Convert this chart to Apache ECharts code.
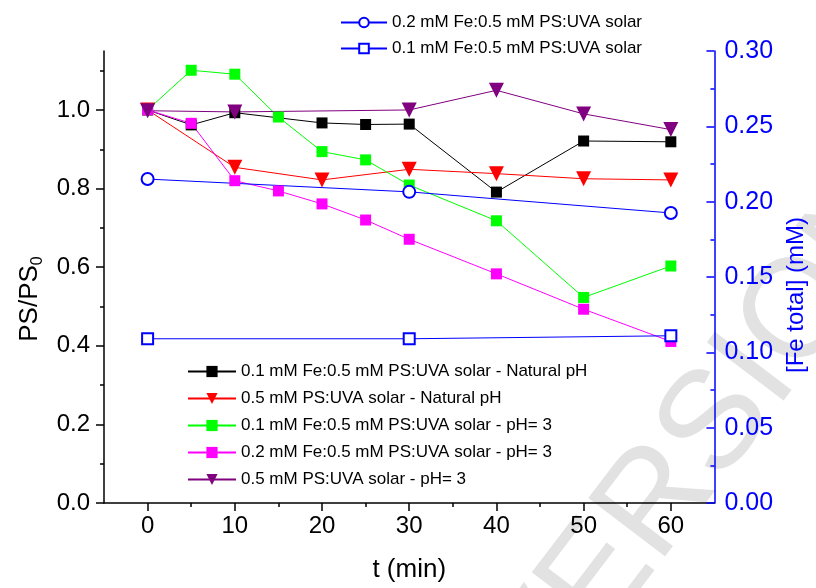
<!DOCTYPE html>
<html>
<head>
<meta charset="utf-8">
<script src="https://cdn.jsdelivr.net/npm/echarts@6/dist/echarts.min.js"></script>
<style>
  html, body { margin: 0; padding: 0; background: #fff; }
  #chart { width: 816px; height: 588px; }
</style>
</head>
<body>
<div id="chart"></div>
<script>
// 时间点 (min)
const tBlack = [0, 5, 10, 20, 25, 30, 40, 50, 60];
const psBlack = [1.0, 0.962, 0.993, 0.967, 0.963, 0.964, 0.791, 0.921, 0.919];

const tRed = [0, 10, 20, 30, 40, 50, 60];
const psRed = [1.0, 0.854, 0.822, 0.849, 0.838, 0.825, 0.822];

const tGreen = [0, 5, 10, 15, 20, 25, 30, 40, 50, 60];
const psGreen = [1.0, 1.101, 1.091, 0.982, 0.894, 0.873, 0.809, 0.718, 0.523, 0.603];

const tMagenta = [0, 5, 10, 15, 20, 25, 30, 40, 50, 60];
const psMagenta = [1.0, 0.966, 0.820, 0.794, 0.761, 0.720, 0.671, 0.583, 0.493, 0.411];

const tPurple = [0, 10, 30, 40, 50, 60];
const psPurple = [0.998, 0.995, 1.0, 1.05, 0.99, 0.95];

// 右轴 [Fe total]
const tFe = [0, 30, 60];
const feCircle = [0.215, 0.2065, 0.1925];
const feSquare = [0.109, 0.109, 0.111];

// 刻度
const xMajor = [0, 10, 20, 30, 40, 50, 60];
const xMinor = [5, 15, 25, 35, 45, 55];
const yMajor = [0, 0.2, 0.4, 0.6, 0.8, 1.0];
const yMinor = [0.1, 0.3, 0.5, 0.7, 0.9, 1.1];

const names = [
  "0.1 mM Fe:0.5 mM PS:UVA solar - Natural pH",
  "0.5 mM PS:UVA solar - Natural pH",
  "0.1 mM Fe:0.5 mM PS:UVA solar - pH= 3",
  "0.2 mM Fe:0.5 mM PS:UVA solar - pH= 3",
  "0.5 mM PS:UVA solar - pH= 3",
  "0.2 mM Fe:0.5 mM PS:UVA solar",
  "0.1 mM Fe:0.5 mM PS:UVA solar"
];

const font = "Liberation Sans";

function pairs(xs, ys) {
  return xs.map((x, i) => [x, ys[i]]);
}

function lineSeries(name, xs, ys, color, symbol, size, opts) {
  return Object.assign({
    name: name,
    type: "line",
    data: pairs(xs, ys),
    symbol: symbol,
    symbolSize: size,
    showAllSymbol: true,
    lineStyle: { color: color, width: 1 },
    itemStyle: { color: color },
    emphasis: { disabled: true },
    animation: false
  }, opts || {});
}

let chart = echarts.init(document.getElementById("chart"));

let options = {
  backgroundColor: "#fff",
  textStyle: { fontFamily: font },
  graphic: [{
    type: "text",
    x: 705,
    y: 440,
    rotation: 0.92,
    z: -10,
    silent: true,
    style: {
      text: "VERSION",
      fontSize: 140,
      fontFamily: font,
      fill: "#e2e2e2",
      align: "center",
      verticalAlign: "middle"
    }
  }],
  legend: [
    {
      data: names.slice(5),
      orient: "vertical",
      left: 335,
      top: 9,
      itemWidth: 46,
      itemHeight: 12,
      itemGap: 9,
      textStyle: { fontSize: 17, fontFamily: font, color: "#000" },
      selectedMode: false
    },
    {
      data: names.slice(0, 5),
      orient: "vertical",
      left: 182,
      top: 358,
      itemWidth: 48,
      itemHeight: 14,
      itemGap: 10,
      textStyle: { fontSize: 17, fontFamily: font, color: "#000" },
      selectedMode: false
    }
  ],
  grid: { left: 104, right: 100, top: 51, bottom: 85 },
  xAxis: [
    {
      type: "value",
      min: -5,
      max: 65,
      interval: 5,
      name: "t (min)",
      nameLocation: "middle",
      nameGap: 54,
      nameTextStyle: { fontSize: 26, color: "#000", fontFamily: font },
      axisLine: { onZero: false, lineStyle: { color: "#000", width: 1.5 } },
      axisTick: { customValues: xMajor, length: 8, lineStyle: { color: "#000", width: 1.5 } },
      axisLabel: { customValues: xMajor, fontSize: 24, color: "#000", margin: 11, fontFamily: font },
      splitLine: { show: false }
    },
    {
      type: "value",
      min: -5,
      max: 65,
      interval: 5,
      position: "bottom",
      axisLine: { show: false, onZero: false },
      axisTick: { customValues: xMinor, length: 4, lineStyle: { color: "#000", width: 1.5 } },
      axisLabel: { show: false },
      splitLine: { show: false }
    }
  ],
  yAxis: [
    {
      type: "value",
      min: 0,
      max: 1.15,
      interval: 0.1,
      position: "left",
      name: "{m|PS/PS}{s|0}",
      nameLocation: "middle",
      nameRotate: 90,
      nameGap: 58,
      nameTextStyle: {
        padding: [0, 44, 0, 0],
        rich: {
          m: { fontSize: 26, color: "#000", fontFamily: font, lineHeight: 32 },
          s: { fontSize: 16, color: "#000", fontFamily: font, lineHeight: 32, verticalAlign: "bottom" }
        }
      },
      axisLine: { show: true, onZero: false, lineStyle: { color: "#000", width: 1.5 } },
      axisTick: { customValues: yMajor, length: 8, lineStyle: { color: "#000", width: 1.5 } },
      axisLabel: {
        customValues: yMajor,
        fontSize: 24,
        color: "#000",
        margin: 14,
        fontFamily: font,
        formatter: (v) => v.toFixed(1)
      },
      splitLine: { show: false }
    },
    {
      type: "value",
      min: 0,
      max: 1.15,
      interval: 0.1,
      position: "left",
      axisLine: { show: false, onZero: false },
      axisTick: { customValues: yMinor, length: 4, lineStyle: { color: "#000", width: 1.5 } },
      axisLabel: { show: false },
      splitLine: { show: false }
    },
    {
      type: "value",
      min: 0,
      max: 0.3,
      interval: 0.05,
      position: "right",
      name: "[Fe total] (mM)",
      nameLocation: "middle",
      nameRotate: 90,
      nameGap: 66,
      nameTextStyle: { fontSize: 24, color: "#0000ff", fontFamily: font, padding: [0, 36, 0, 0] },
      axisLine: { show: true, onZero: false, lineStyle: { color: "#0000ff", width: 1.5 } },
      axisTick: { inside: true, length: 8, lineStyle: { color: "#0000ff", width: 1.5 } },
      minorTick: { show: true, splitNumber: 2, length: 4, lineStyle: { color: "#0000ff", width: 1.5 } },
      axisLabel: {
        fontSize: 25,
        color: "#0000ff",
        margin: 10,
        fontFamily: font,
        formatter: (v) => v.toFixed(2)
      },
      splitLine: { show: false }
    }
  ],
  series: [
    lineSeries(names[0], tBlack, psBlack, "#000000", "rect", 11),
    lineSeries(names[1], tRed, psRed, "#ff0000", "triangle", 15, { symbolRotate: 180 }),
    lineSeries(names[2], tGreen, psGreen, "#00ff00", "rect", 11),
    lineSeries(names[3], tMagenta, psMagenta, "#ff00ff", "rect", 11),
    lineSeries(names[4], tPurple, psPurple, "#800080", "triangle", 15, { symbolRotate: 180 }),
    lineSeries(names[5], tFe, feCircle, "#0000ff", "emptyCircle", 12, { yAxisIndex: 2 }),
    lineSeries(names[6], tFe, feSquare, "#0000ff", "emptyRect", 11, { yAxisIndex: 2 })
  ]
};

chart.setOption(options);
</script>
</body>
</html>
